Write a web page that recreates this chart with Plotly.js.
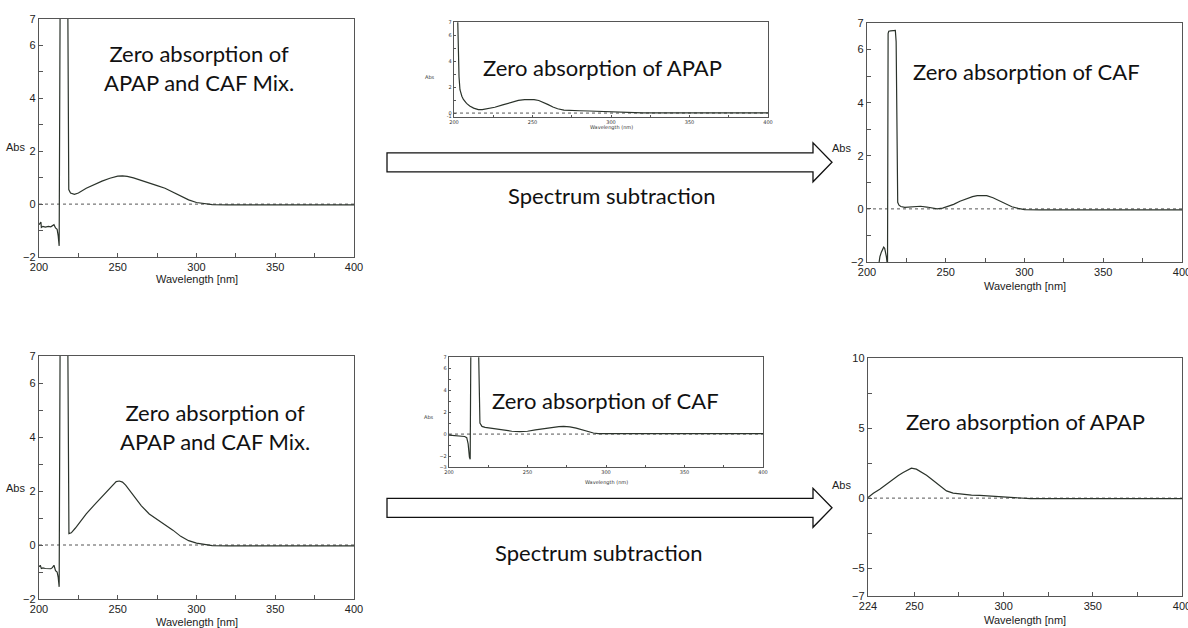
<!DOCTYPE html>
<html>
<head>
<meta charset="utf-8">
<script src="https://cdn.plot.ly/plotly-3.0.1.min.js"></script>
<style>html,body{margin:0;padding:0;background:#fff;}#chart{width:1188px;height:628px;}</style>
</head>
<body>
<div id="chart"></div>
<script>
// ---------------- DATA ----------------
// Panel 1: zero-order spectrum of APAP + CAF mixture (top)
const mixTopWl  = [200, 200.6, 201.2, 201.5, 202.5, 204, 206, 207.5, 208.5, 209.5, 210.5, 211.5, 212.2, 212.8, 213.4, 214, 217, 218.3, 218.9, 220, 222.5, 225, 230, 235, 240, 245, 250, 253, 256, 260, 265, 270, 275, 280, 285, 290, 295, 300, 305, 310, 320, 340, 360, 380, 400];
const mixTopAbs = [-0.78, -0.72, -0.68, -0.88, -0.84, -0.87, -0.84, -0.86, -0.82, -0.78, -0.9, -0.95, -1.2, -1.58, 7.5, 9.5, 9.5, 7.5, 0.55, 0.42, 0.37, 0.42, 0.6, 0.75, 0.87, 0.98, 1.06, 1.07, 1.05, 0.99, 0.9, 0.8, 0.7, 0.6, 0.45, 0.3, 0.16, 0.06, 0.01, -0.02, -0.03, -0.03, -0.03, -0.03, -0.03];

// Panel 2: zero-order spectrum of APAP (top, subtracted)
const apapTopWl  = [202, 202.4, 203.2, 203.8, 205, 206, 208, 210, 212.5, 215.5, 218, 222, 226, 231, 236, 241, 245, 248, 251, 254, 257, 260, 263, 266, 270, 275, 280, 286, 292, 297, 302, 308, 320, 350, 400];
const apapTopAbs = [8, 7, 2.8, 1.8, 1.3, 1.05, 0.75, 0.55, 0.38, 0.27, 0.26, 0.33, 0.45, 0.63, 0.82, 0.98, 1.04, 1.06, 1.04, 0.97, 0.83, 0.65, 0.47, 0.33, 0.23, 0.19, 0.18, 0.16, 0.13, 0.09, 0.05, 0.02, 0.01, 0.01, 0.01];

// Panel 3: zero-order spectrum of CAF (top result)
const cafTopWl  = [200, 204, 206.5, 207.4, 208.2, 209.1, 210, 210.6, 211.2, 211.8, 212.3, 212.7, 213.0, 213.4, 213.8, 215, 216.5, 218, 218.5, 219, 219.5, 220.3, 221.5, 224, 227, 230, 234, 238, 241, 244.5, 248, 251, 255, 259, 263, 267, 270, 273, 276, 280, 284, 288, 292, 296, 300, 310, 350, 400];
const cafTopAbs = [-3.5, -3.2, -2.5, -2.0, -1.8, -1.63, -1.5, -1.44, -1.48, -1.62, -1.8, -2.0, -2.8, 6.6, 6.69, 6.7, 6.71, 6.72, 6.3, 0.5, 0.25, 0.14, 0.09, 0.06, 0.08, 0.1, 0.1, 0.07, 0.04, 0.0, 0.03, 0.08, 0.17, 0.29, 0.39, 0.46, 0.5, 0.51, 0.5, 0.42, 0.31, 0.17, 0.08, 0.02, -0.03, -0.04, -0.04, -0.04];

// Panel 4: zero-order spectrum of APAP + CAF mixture (bottom)
const mixBotWl  = [200, 200.8, 201.5, 202.5, 204, 206, 207.5, 208.5, 209.5, 210.5, 211.5, 212.2, 212.8, 213.4, 214, 217, 218.3, 219, 220.5, 223, 226, 230, 235, 240, 245, 249, 251, 253, 255, 260, 265, 270, 275, 280, 285, 290, 295, 300, 305, 310, 320, 340, 360, 380, 400];
const mixBotAbs = [-0.81, -0.75, -0.87, -0.85, -0.87, -0.86, -0.88, -0.84, -0.75, -0.95, -1.0, -1.2, -1.55, 7.5, 9.5, 9.5, 7.5, 0.42, 0.45, 0.62, 0.85, 1.15, 1.48, 1.78, 2.1, 2.35, 2.37, 2.33, 2.22, 1.85, 1.45, 1.15, 0.95, 0.78, 0.55, 0.32, 0.16, 0.07, 0.02, -0.02, -0.03, -0.03, -0.03, -0.03, -0.03];

// Panel 5: zero-order spectrum of CAF (bottom, subtracted)
const cafBotWl  = [200, 202, 204, 206, 208, 210, 211.3, 212.2, 213, 213.5, 213.9, 214.5, 216.5, 218.8, 219.7, 221, 223, 226, 230, 235, 240, 245, 250, 255, 260, 265, 270, 273, 277, 281, 285, 289, 292, 295, 300, 320, 350, 400];
const cafBotAbs = [-0.1, -0.12, -0.15, -0.18, -0.2, -0.22, -0.33, -0.9, -2.1, -2.3, 7.5, 9.5, 9.5, 8, 1.0, 0.7, 0.62, 0.55, 0.45, 0.34, 0.26, 0.22, 0.26, 0.38, 0.5, 0.6, 0.68, 0.7, 0.66, 0.55, 0.4, 0.2, 0.1, 0.05, 0.05, 0.05, 0.05, 0.05];

// Panel 6: zero-order spectrum of APAP (bottom result)
const apapBotWl  = [224, 227, 230.6, 234, 238, 241, 243.7, 246, 248.3, 251.1, 254, 256.8, 259.5, 262.4, 265, 268, 271.7, 277.4, 282, 286.7, 294.2, 301.7, 307.3, 315, 350, 400];
const apapBotAbs = [0.05, 0.35, 0.64, 0.98, 1.35, 1.62, 1.83, 2.0, 2.14, 2.07, 1.88, 1.64, 1.37, 1.07, 0.78, 0.52, 0.36, 0.26, 0.22, 0.19, 0.12, 0.05, -0.02, -0.04, -0.04, -0.04];

// Tick labels
const bigXTicks = [200, 250, 300, 350, 400];
const bigXMinor = [225, 275, 325, 375];
const bigYTicks = [-2, 0, 2, 4, 6, 7];
const bigYMinor = [-1, 1, 3, 5];
const p2YTicks = [-0.28, 0, 2, 4, 6, 7];
const p2YText  = ["-1", "0", "2", "4", "6", "7"];
const p5YTicks = [-3, -2, 0, 2, 4, 6, 7];
const p6XTicks = [224, 250, 300, 350, 400];
const p6XMinor = [275, 325, 375];
const p6YTicks = [-7, -5, 0, 5, 10];
const p6YMinor = [-2.5, 2.5, 7.5];

const panelTitles = ["Zero absorption of<br>APAP and CAF Mix.", "Zero absorption of APAP", "Zero absorption of CAF",
                     "Zero absorption of<br>APAP and CAF Mix.", "Zero absorption of CAF", "Zero absorption of APAP"];
const arrowLabel = "Spectrum subtraction";

// ---------------- LAYOUT ----------------
const W = 1188, H = 628;
const fx = v => v / W;
const fy = v => 1 - v / H;

const boxes = [
  {l: 39,  r: 354,  t: 19,    b: 257},
  {l: 454, r: 768,  t: 22.3,  b: 116.7},
  {l: 867, r: 1182, t: 23,    b: 262},
  {l: 39,  r: 354,  t: 356,   b: 599},
  {l: 449, r: 763,  t: 357.3, b: 467},
  {l: 868, r: 1182, t: 358.3, b: 596}
];

const lineCol = '#2b332b';
const frameCol = '#555';
const bigFont = {family: 'Liberation Sans Narrow, Arial Narrow, Liberation Sans, Arial, sans-serif', size: 11, color: '#222'};
const smallFont = {family: 'DejaVu Sans, sans-serif', size: 5, color: '#333'};
const textFont = {family: 'Lato, Open Sans, sans-serif', size: 22, color: '#111'};

const series = [
  [mixTopWl, mixTopAbs], [apapTopWl, apapTopAbs], [cafTopWl, cafTopAbs],
  [mixBotWl, mixBotAbs], [cafBotWl, cafBotAbs], [apapBotWl, apapBotAbs]
];

const traces = series.map((s, i) => ({
  x: s[0], y: s[1], type: 'scatter', mode: 'lines',
  xaxis: 'x' + (i === 0 ? '' : i + 1), yaxis: 'y' + (i === 0 ? '' : i + 1),
  line: {color: lineCol, width: 1.2}, hoverinfo: 'skip'
}));

function xAxis(i, cfg) {
  const b = boxes[i];
  const small = (i === 1 || i === 4);
  return Object.assign({
    domain: [fx(b.l), fx(b.r)], anchor: 'y' + (i === 0 ? '' : i + 1),
    showline: true, mirror: true, linecolor: frameCol, linewidth: 1.2,
    showgrid: false, zeroline: false, ticks: 'inside', ticklen: small ? 2 : 4,
    tickcolor: frameCol, tickfont: small ? smallFont : bigFont, ticklabeloverflow: 'allow',
    tickmode: 'array', tickvals: bigXTicks, range: [200, 400],
    minor: {tickmode: 'array', tickvals: bigXMinor, ticks: 'inside', ticklen: small ? 2 : 4, tickcolor: frameCol},
    fixedrange: true
  }, cfg || {});
}
function yAxis(i, cfg) {
  const b = boxes[i];
  const small = (i === 1 || i === 4);
  return Object.assign({
    domain: [fy(b.b), fy(b.t)], anchor: 'x' + (i === 0 ? '' : i + 1),
    showline: true, mirror: true, linecolor: frameCol, linewidth: 1.2,
    showgrid: false, zeroline: false, ticks: 'inside', ticklen: small ? 2 : 4,
    tickcolor: frameCol, tickfont: small ? smallFont : bigFont, ticklabeloverflow: 'allow',
    tickmode: 'array', tickvals: bigYTicks, range: [-2, 7],
    minor: {tickmode: 'array', tickvals: bigYMinor, ticks: 'inside', ticklen: small ? 2 : 4, tickcolor: frameCol},
    fixedrange: true
  }, cfg || {});
}

const layout = {
  width: W, height: H, margin: {l: 0, r: 0, t: 0, b: 0},
  paper_bgcolor: '#fff', plot_bgcolor: '#fff', showlegend: false, hovermode: false,
  xaxis: xAxis(0), yaxis: yAxis(0),
  xaxis2: xAxis(1), yaxis2: yAxis(1, {range: [-0.28, 7], tickvals: p2YTicks, ticktext: p2YText,
           minor: {tickmode: 'array', tickvals: [1, 3, 5], ticks: 'inside', ticklen: 2, tickcolor: frameCol}}),
  xaxis3: xAxis(2), yaxis3: yAxis(2),
  xaxis4: xAxis(3), yaxis4: yAxis(3),
  xaxis5: xAxis(4), yaxis5: yAxis(4, {range: [-3, 7], tickvals: p5YTicks,
           minor: {tickmode: 'array', tickvals: [-1, 1, 3, 5], ticks: 'inside', ticklen: 2, tickcolor: frameCol}}),
  xaxis6: xAxis(5, {range: [224, 400], tickvals: p6XTicks,
           minor: {tickmode: 'array', tickvals: p6XMinor, ticks: 'inside', ticklen: 4, tickcolor: frameCol}}),
  yaxis6: yAxis(5, {range: [-7, 10], tickvals: p6YTicks,
           minor: {tickmode: 'array', tickvals: p6YMinor, ticks: 'inside', ticklen: 4, tickcolor: frameCol}}),
  shapes: [], annotations: []
};

// dotted zero lines
for (let i = 0; i < 6; i++) {
  const sfx = i === 0 ? '' : String(i + 1);
  layout.shapes.push({type: 'line', xref: 'x' + sfx + ' domain', yref: 'y' + sfx, x0: 0, x1: 1, y0: 0, y1: 0,
    line: {color: '#555', width: 1, dash: 'dot'}, layer: 'below'});
}

// block arrows
function arrowPath(x0, xb, xt, yc, sh, hh) {
  const P = (x, y) => fx(x).toFixed(5) + ',' + fy(y).toFixed(5);
  return 'M' + P(x0, yc - sh) + ' L' + P(xb, yc - sh) + ' L' + P(xb, yc - hh) + ' L' + P(xt, yc) +
         ' L' + P(xb, yc + hh) + ' L' + P(xb, yc + sh) + ' L' + P(x0, yc + sh) + ' Z';
}
layout.shapes.push({type: 'path', xref: 'paper', yref: 'paper', path: arrowPath(387, 813, 832, 162.3, 9.5, 19.5),
  line: {color: '#111', width: 1.3}, fillcolor: '#fff'});
layout.shapes.push({type: 'path', xref: 'paper', yref: 'paper', path: arrowPath(387, 813, 832, 507.8, 9.5, 19.5),
  line: {color: '#111', width: 1.3}, fillcolor: '#fff'});

// panel texts
const textPos = [[199, 68], [602, 68], [1026, 72], [215, 427], [605, 400], [1025, 421.7]];
textPos.forEach((p, i) => {
  layout.annotations.push({xref: 'paper', yref: 'paper', x: fx(p[0]), y: fy(p[1]), xanchor: 'center', yanchor: 'middle',
    text: panelTitles[i], showarrow: false, font: textFont, align: 'center'});
});
layout.annotations.push({xref: 'paper', yref: 'paper', x: fx(611), y: fy(196), xanchor: 'center', yanchor: 'middle',
  text: arrowLabel, showarrow: false, font: textFont});
layout.annotations.push({xref: 'paper', yref: 'paper', x: fx(598), y: fy(552), xanchor: 'center', yanchor: 'middle',
  text: arrowLabel, showarrow: false, font: textFont});

// axis labels (Abs / Wavelength)
const absPos = [[0.463, -12], [0.424, -17], [0.477, -14], [0.457, -12], [0.46, -13], [0.467, -15]];
const wlShift = [-22, -11, -24, -23, -15, -24];
for (let i = 0; i < 6; i++) {
  const sfx = i === 0 ? '' : String(i + 1);
  const small = (i === 1 || i === 4);
  layout.annotations.push({xref: 'x' + sfx + ' domain', yref: 'y' + sfx + ' domain', x: 0, y: absPos[i][0],
    xanchor: 'right', yanchor: 'middle', xshift: absPos[i][1], text: 'Abs', showarrow: false,
    font: small ? smallFont : bigFont});
  layout.annotations.push({xref: 'x' + sfx + ' domain', yref: 'y' + sfx + ' domain', x: 0.5, y: 0,
    xanchor: 'center', yanchor: 'middle', yshift: wlShift[i], text: small ? 'Wavelength (nm)' : 'Wavelength [nm]',
    showarrow: false, font: small ? smallFont : bigFont});
}

Plotly.newPlot('chart', traces, layout, {staticPlot: true, displayModeBar: false});
</script>
</body>
</html>
